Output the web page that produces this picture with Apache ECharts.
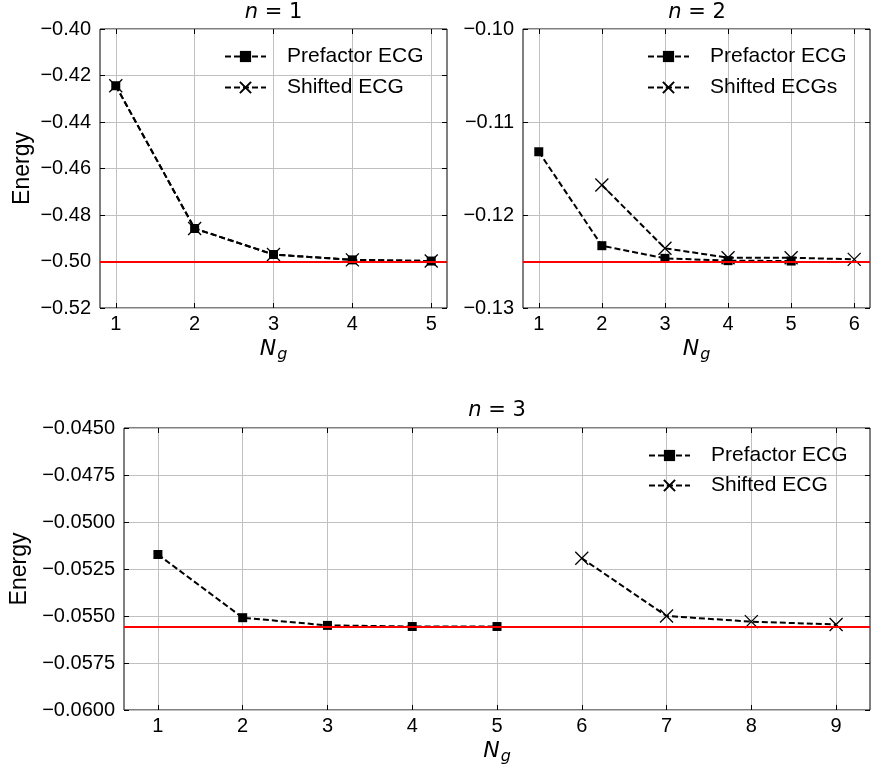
<!DOCTYPE html>
<html><head><meta charset="utf-8">
<script src="https://cdn.jsdelivr.net/npm/echarts@6/dist/echarts.min.js"></script>
<style>html,body{margin:0;padding:0;background:#fff}#c{width:871px;height:768px}</style>
</head><body><div id="c"></div>
<script>
// ---- data ----
const ng1 = [1, 2, 3, 4, 5];
const pref1 = [-0.4244, -0.4858, -0.4970, -0.4993, -0.4998];
const shift1 = [-0.4244, -0.4858, -0.4970, -0.4993, -0.4998];
const exact1 = -0.5;

const ngPref2 = [1, 2, 3, 4, 5];
const pref2 = [-0.1132, -0.1233, -0.12466, -0.12491, -0.12495];
const ngShift2 = [2, 3, 4, 5, 6];
const shift2 = [-0.11677, -0.12358, -0.12459, -0.12459, -0.12477];
const exact2 = -0.125;

const ngPref3 = [1, 2, 3, 4, 5];
const pref3 = [-0.05173, -0.05509, -0.05550, -0.05556, -0.05556];
const ngShift3 = [6, 7, 8, 9];
const shift3 = [-0.05193, -0.05500, -0.05530, -0.05545];
const exact3 = -0.055556;

const xTicks1 = [1, 2, 3, 4, 5];
const xTicks2 = [1, 2, 3, 4, 5, 6];
const xTicks3 = [1, 2, 3, 4, 5, 6, 7, 8, 9];

const titles = ['1', '2', '3'];
const legendNames1 = ['Prefactor ECG', 'Shifted ECG'];
const legendNames2 = ['Prefactor ECG', 'Shifted ECGs'];
const legendNames3 = ['Prefactor ECG', 'Shifted ECG'];

// ---- styling helpers ----
const FONT = 'Liberation Sans';
const MATH = 'DejaVu Sans';
const GRIDC = '#c0c0c0';
const TICKFS = 20;
const fmt = d => v => (v < 0 ? '\u2212' : '') + Math.abs(v).toFixed(d);
const ngName = '{i|N}{s|g}';
const ngStyle = {
  color: '#000',
  rich: {
    i: {fontFamily: MATH, fontStyle: 'italic', fontSize: 22, color: '#000'},
    s: {fontFamily: MATH, fontStyle: 'italic', fontSize: 16, color: '#000', padding: [12, 0, 0, 1]}
  }
};

function xAxes(gi, min, max, ticks) {
  return [
    {type: 'value', gridIndex: gi, position: 'bottom', min, max,
      axisLine: {show: false},
      axisTick: {inside: true, length: 5, customValues: ticks, lineStyle: {color: '#000', width: 1}},
      axisLabel: {customValues: ticks, color: '#000', fontFamily: FONT, fontSize: TICKFS, margin: 6},
      splitLine: {show: true, lineStyle: {color: GRIDC, width: 1}},
      name: ngName, nameLocation: 'middle', nameGap: 27, nameTextStyle: ngStyle},
    {type: 'value', gridIndex: gi, position: 'top', min, max,
      axisLine: {show: false},
      axisTick: {inside: true, length: 5, customValues: ticks, lineStyle: {color: '#000', width: 1}},
      axisLabel: {show: false}, splitLine: {show: false}}
  ];
}
function yAxes(gi, min, max, interval, dec, name, gap) {
  return [
    {type: 'value', gridIndex: gi, position: 'left', min, max, interval,
      axisLine: {show: false},
      axisTick: {inside: true, length: 5, lineStyle: {color: '#000', width: 1}},
      axisLabel: {formatter: fmt(dec), color: '#000', fontFamily: FONT, fontSize: TICKFS, margin: 9},
      splitLine: {show: true, lineStyle: {color: GRIDC, width: 1}},
      name: name, nameLocation: 'middle', nameGap: gap, nameRotate: 90,
      nameTextStyle: {fontFamily: FONT, fontSize: 23, color: '#000'}},
    {type: 'value', gridIndex: gi, position: 'right', min, max, interval,
      axisLine: {show: false},
      axisTick: {inside: true, length: 5, lineStyle: {color: '#000', width: 1}},
      axisLabel: {show: false}, splitLine: {show: false}}
  ];
}
const dashed = {type: [6, 3], width: 2, color: '#000'};
const XPATH = 'path://M0,0L10,10M10,0L0,10';
const pairs = (xs, ys) => xs.map((x, i) => [x, ys[i]]);
function prefSeries(ax, xs, ys) {
  return {name: 'Prefactor ECG', type: 'line', xAxisIndex: ax, yAxisIndex: ax,
    data: pairs(xs, ys), symbol: 'rect', symbolSize: 9,
    itemStyle: {color: '#000'}, lineStyle: dashed, z: 3};
}
function shiftSeries(ax, name, xs, ys, refY) {
  return {name: name, type: 'line', xAxisIndex: ax, yAxisIndex: ax,
    data: pairs(xs, ys), symbol: XPATH, symbolSize: 13,
    itemStyle: {color: 'transparent', borderColor: '#000', borderWidth: 1.3},
    lineStyle: dashed, z: 4,
    markLine: {silent: true, symbol: 'none', label: {show: false}, precision: 8,
      lineStyle: {color: '#ff0000', type: 'solid', width: 2},
      emphasis: {disabled: true},
      data: [{yAxis: refY}]}};
}
function title(n, cx, top) {
  return {text: '{i|n} = ' + n, left: cx, top: top, textAlign: 'center', padding: 0,
    textStyle: {fontFamily: MATH, fontSize: 21, fontWeight: 'normal', color: '#000',
      rich: {i: {fontFamily: MATH, fontStyle: 'italic', fontSize: 21, color: '#000'}}}};
}
function legend(names, left, top, gap) {
  return {data: names, orient: 'vertical', left: left, top: top, padding: 0,
    itemWidth: 41, itemHeight: 14, itemGap: gap,
    textStyle: {fontFamily: FONT, fontSize: 21, color: '#000', padding: [0, 0, 0, 16]}};
}
const gridBox = {show: true, borderColor: '#000', borderWidth: 1, backgroundColor: 'transparent'};

const option = {
  animation: false,
  backgroundColor: '#fff',
  title: [title(titles[0], 273.5, 2), title(titles[1], 697, 2), title(titles[2], 497, 400)],
  legend: [legend(legendNames1, 224, 46, 10), legend(legendNames2, 647, 46, 10), legend(legendNames3, 648, 445, 9)],
  grid: [
    Object.assign({left: 100, top: 29, width: 347, height: 279}, gridBox),
    Object.assign({left: 523, top: 29, width: 347, height: 279}, gridBox),
    Object.assign({left: 124, top: 428, width: 746, height: 282}, gridBox)
  ],
  xAxis: [].concat(
    xAxes(0, 0.8, 5.2, xTicks1),
    xAxes(1, 0.75, 6.25, xTicks2),
    xAxes(2, 0.6, 9.4, xTicks3)
  ),
  yAxis: [].concat(
    yAxes(0, -0.52, -0.40, 0.02, 2, 'Energy', 66),
    yAxes(1, -0.13, -0.10, 0.01, 2, '', 60),
    yAxes(2, -0.06, -0.045, 0.0025, 4, 'Energy', 86)
  ),
  series: [
    prefSeries(0, ng1, pref1),
    shiftSeries(0, 'Shifted ECG', ng1, shift1, exact1),
    prefSeries(2, ngPref2, pref2),
    shiftSeries(2, 'Shifted ECGs', ngShift2, shift2, exact2),
    prefSeries(4, ngPref3, pref3),
    shiftSeries(4, 'Shifted ECG', ngShift3, shift3, exact3)
  ]
};
const chart = echarts.init(document.getElementById('c'), null, {renderer: 'canvas'});
chart.setOption(option);
</script></body></html>
